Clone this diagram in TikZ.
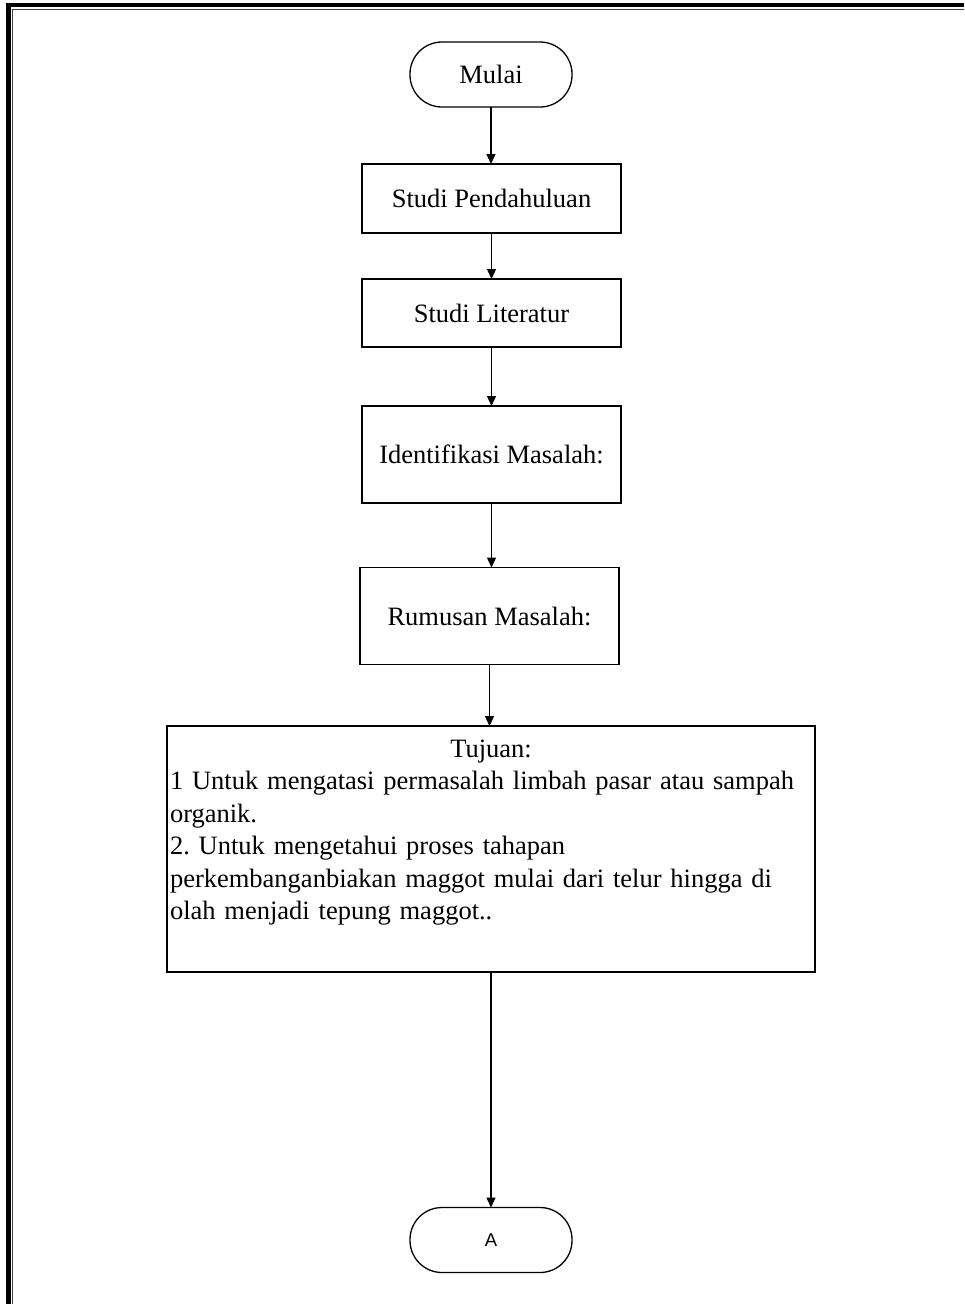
\documentclass[tikz,border=0pt]{standalone}
\usepackage{fontspec}
\setmainfont{Liberation Serif}
\newfontfamily\termfont{Liberation Sans}
\usetikzlibrary{arrows.meta}
\frenchspacing

\begin{document}
\begin{tikzpicture}[y=-1pt, x=1pt, inner sep=0pt, outer sep=0pt,
  prosesbox/.style={draw=black, line width=1.3pt, minimum width=259pt, align=center,
    font=\fontsize{26.5}{32}\selectfont},
  terminal/.style={draw=black, line width=1.3pt, rounded corners=32pt,
    minimum width=162pt, minimum height=65pt, font=\fontsize{26.5}{32}\selectfont},
  panah/.style={draw=black, line width=1.4pt, -{Triangle[length=10pt,width=9pt]}}]
  \useasboundingbox (0,0) rectangle (964,1304);
  % bingkai halaman
  \path[draw=black, line width=4.5pt] (8.5,1304) -- (8.5,5) -- (964,5);
  \path[draw=black!75, line width=1.3pt] (12.8,1304) -- (12.8,9.6) -- (964,9.6);

  \node[terminal] (mulai) at (491,74.5) {Mulai};
  \node[prosesbox, minimum height=69pt] (pendahuluan) at (491.5,198.5) {Studi Pendahuluan};
  \node[prosesbox, minimum height=68pt] (literatur) at (491.5,313) {Studi Literatur};
  \node[prosesbox, minimum height=97pt] (identifikasi) at (491.5,454.5) {Identifikasi Masalah:};
  \node[prosesbox, minimum height=97pt] (rumusan) at (489.5,616) {Rumusan Masalah:};
  \node[draw=black, line width=1.3pt, inner xsep=3pt, text width=642pt, align=left,
    text height=31pt, text depth=215pt, font=\fontsize{26.5}{32.5}\selectfont]
    (tujuan) at (491,849)
    {\makebox[642pt]{Tujuan:}\\
     1 Untuk mengatasi permasalah limbah pasar atau sampah\\
     organik.\\
     2. Untuk mengetahui proses tahapan\\
     perkembanganbiakan maggot mulai dari telur hingga di\\
     olah menjadi tepung maggot..};
  \node[terminal, font=\termfont\fontsize{18.5}{22}\selectfont] (akhir) at (491,1240) {A};

  \draw[panah] (mulai.south) -- (mulai.south |- pendahuluan.north);
  \draw[panah] (pendahuluan.south) -- (pendahuluan.south |- literatur.north);
  \draw[panah] (literatur.south) -- (literatur.south |- identifikasi.north);
  \draw[panah] (identifikasi.south) -- (identifikasi.south |- rumusan.north);
  \draw[panah] (rumusan.south) -- (rumusan.south |- tujuan.north);
  \draw[panah] (tujuan.south) -- (tujuan.south |- akhir.north);
\end{tikzpicture}
\end{document}
